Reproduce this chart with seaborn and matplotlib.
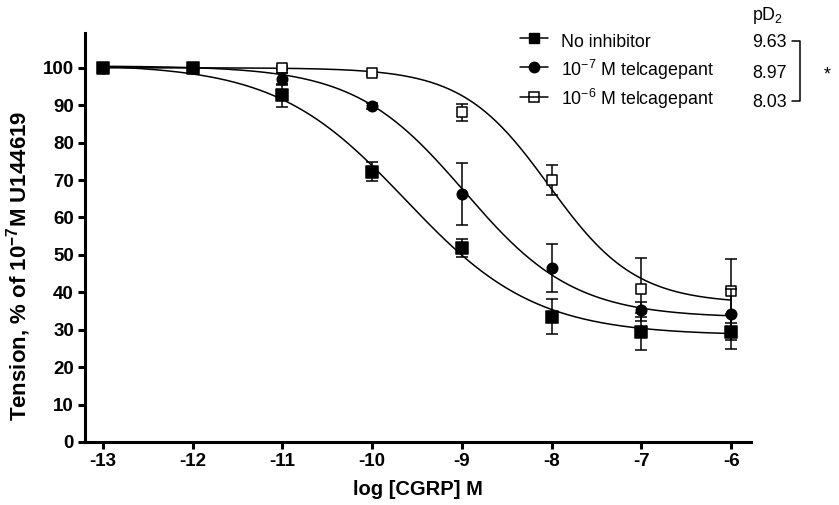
import numpy as np
import pandas as pd
import matplotlib.pyplot as plt
from matplotlib.lines import Line2D
import seaborn as sns


# log [CGRP] (M) and responses (% of U144619 tension)
log_cgrp = [-13, -12, -11, -10, -9, -8, -7, -6]

no_inh_mean = [100, 100, 92.7, 72.2, 51.9, 33.5, 29.5, 29.5]
no_inh_sem = [0, 0, 3.1, 2.5, 2.4, 4.7, 4.9, 4.7]

t7_mean = [100, 100, 97.0, 89.9, 66.3, 46.6, 35.3, 34.1]
t7_sem = [0, 0, 1.5, 0.8, 8.2, 6.4, 2.0, 6.8]

t6_mean = [100, 100, 100, 98.5, 88.1, 70.0, 40.8, 40.4]
t6_sem = [0, 0, 0.5, 0.5, 2.3, 4.0, 8.5, 8.5]

# sigmoid fit parameters: top, bottom, logEC50, hill slope
fit_no_inh = (101.0, 28.5, -9.63, 0.60)
fit_t7 = (100.5, 33.2, -8.97, 0.71)
fit_t6 = (100.0, 37.0, -8.03, 0.90)

series_labels = ["No inhibitor",
                 r"10$^{-7}$ M telcagepant",
                 r"10$^{-6}$ M telcagepant"]
pd2_values = ["9.63", "8.97", "8.03"]


def sigmoid(x, top, bottom, logec50, hill):
    return bottom + (top - bottom) / (1 + 10 ** ((x - logec50) * hill))


sns.set_theme(style="ticks", rc={"axes.edgecolor": "black", "text.color": "black",
                                 "xtick.color": "black", "ytick.color": "black",
                                 "axes.labelcolor": "black"})
plt.rcParams["font.family"] = ["Liberation Sans", "DejaVu Sans"]
plt.rcParams["axes.unicode_minus"] = False
plt.rcParams["mathtext.fontset"] = "custom"
plt.rcParams["mathtext.rm"] = "Liberation Sans"
plt.rcParams["mathtext.bf"] = "Liberation Sans:bold"
plt.rcParams["mathtext.default"] = "regular"

fig = plt.figure(figsize=(8.39, 5.05), dpi=100)
ax = fig.add_axes([85 / 839, 63 / 505, 666 / 839, 409 / 505])

xs = np.linspace(log_cgrp[0], log_cgrp[-1], 300)

# (mean, sem, fit, marker, face, size, zorder)
series = [
    (t6_mean, t6_sem, fit_t6, "s", "white", 45, 3),
    (t7_mean, t7_sem, fit_t7, "o", "black", 57, 4),
    (no_inh_mean, no_inh_sem, fit_no_inh, "s", "black", 63, 5),
]

for mean, sem, fit, mk, face, size, z in series:
    sns.lineplot(x=xs, y=sigmoid(xs, *fit), color="black", lw=1.1,
                 estimator=None, sort=False, ax=ax, zorder=2)
    ax.errorbar(log_cgrp, mean, yerr=sem, fmt="none", ecolor="black",
                elinewidth=1.1, capsize=4, capthick=1.1, zorder=z)
    sns.scatterplot(x=log_cgrp, y=mean, marker=mk, s=size, color=face,
                    edgecolor="black", linewidth=1.1, ax=ax, zorder=z + 0.5)

ax.set_xlim(-13.2, -5.78)
ax.set_ylim(0, 109.3)
ax.set_xticks(log_cgrp)
ax.set_yticks(range(0, 101, 10))
sns.despine(ax=ax)
for s in ["left", "bottom"]:
    ax.spines[s].set_linewidth(2.2)
ax.tick_params(width=2.2, length=5, labelsize=13.5, pad=3)
for lbl in ax.get_xticklabels() + ax.get_yticklabels():
    lbl.set_fontweight("bold")

ax.set_xlabel("log [CGRP] M", fontsize=14.5, fontweight="bold")
ax.set_ylabel(r"Tension, % of 10$^{\mathbf{-7}}$M U144619", fontsize=16, fontweight="bold")
ax.xaxis.set_label_coords(0.5, -0.093)
ax.yaxis.set_label_coords(-0.078, 0.43)

handles = [
    Line2D([], [], color="black", lw=1.1, marker="s", ms=7.9, mfc="black", mec="black"),
    Line2D([], [], color="black", lw=1.1, marker="o", ms=7.5, mfc="black", mec="black"),
    Line2D([], [], color="black", lw=1.1, marker="s", ms=6.8, mfc="none", mec="black", mew=1.1),
]
leg = ax.legend(handles, series_labels, loc="upper left",
                bbox_to_anchor=(520 / 839, 1 - 30 / 505), bbox_transform=fig.transFigure,
                frameon=False, fontsize=12.8, handlelength=1.6, handletextpad=0.7,
                handleheight=1.55, labelspacing=0.3, borderpad=0, borderaxespad=0)

# pD2 column and significance bracket, aligned with the legend text rows
fig.canvas.draw()
renderer = fig.canvas.get_renderer()
H = fig.bbox.height
em = 12.8 * fig.dpi / 72
row_bottom = []
for t in leg.get_texts():
    bb = t.get_window_extent(renderer)
    row_bottom.append(bb.y0 / H)
row_mid = [y + 0.57 * em / H for y in row_bottom]

fig.text(752 / 839, 1 - 15 / 505, r"pD$_2$", fontsize=12.8, va="center", ha="left")
for yv, val in zip(row_bottom, pd2_values):
    fig.text(752 / 839, yv, val, fontsize=12.8, va="bottom", ha="left")

bx0, bx1 = 792 / 839, 800 / 839
fig.add_artist(Line2D([bx0, bx1, bx1, bx0], [row_mid[0], row_mid[0], row_mid[2], row_mid[2]],
                      color="black", lw=1.1, transform=fig.transFigure))
fig.text(827 / 839, (row_mid[0] + row_mid[2]) / 2 - 4 / 505, "*", fontsize=12.8,
         va="center", ha="center")

fig.savefig("out.png", dpi=100)
